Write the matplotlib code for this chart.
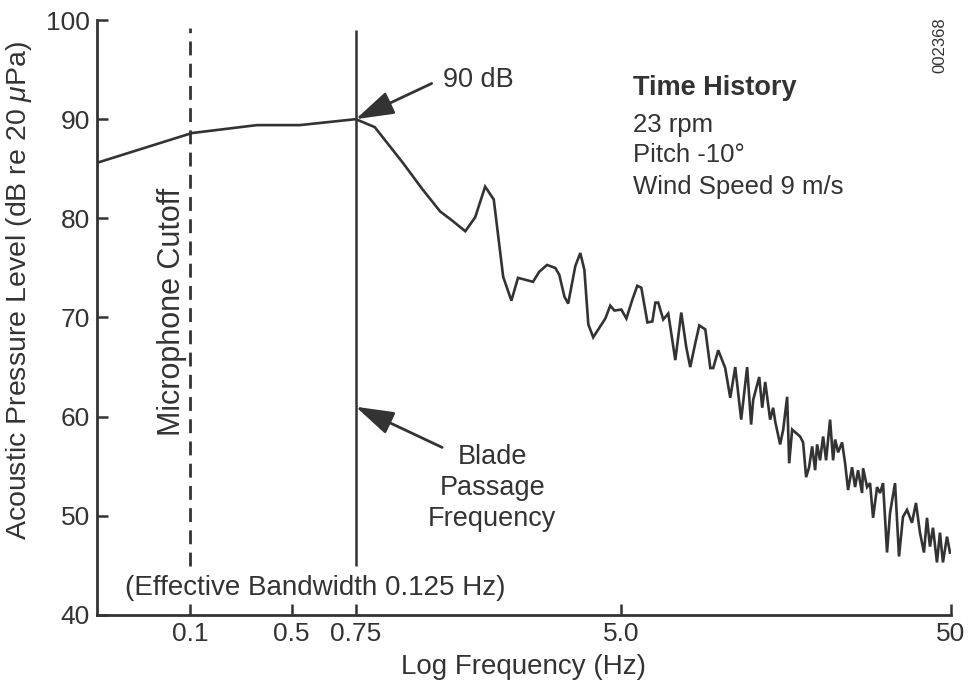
import numpy as np
import matplotlib.pyplot as plt
from matplotlib.ticker import NullLocator

plt.rcParams['font.family'] = ['Liberation Sans', 'DejaVu Sans']
plt.rcParams['mathtext.fontset'] = 'custom'
plt.rcParams['mathtext.it'] = 'Liberation Sans:italic'
plt.rcParams['mathtext.rm'] = 'Liberation Sans'

INK = '#333333'

# spectrum: frequency (Hz) and level (dB re 20 uPa)
freq = [0.0231, 0.103, 0.288, 0.526, 0.75, 0.859, 1.05, 1.21, 1.37, 1.49,
        1.64, 1.76, 1.89, 2.01, 2.15, 2.28, 2.39, 2.66, 2.78, 2.94,
        3.12, 3.21, 3.33, 3.42, 3.60, 3.73, 3.84, 3.95, 4.09, 4.46,
        4.62, 4.76, 5.00, 5.18, 5.40, 5.59, 5.75, 6.00, 6.21, 6.34,
        6.47, 6.70, 6.94, 7.29, 7.60, 7.87, 8.09, 8.38, 8.62, 8.99,
        9.31, 9.50, 9.84, 10.33, 10.70, 11.08, 11.55, 12.04, 12.38, 12.56,
        13.10, 13.38, 13.66, 14.14, 14.44, 14.65, 15.16, 15.49, 15.92, 16.15,
        16.49, 17.43, 17.80, 18.18, 18.56, 18.96, 19.36, 19.63, 20.04, 20.47,
        20.90, 21.49, 21.95, 22.26, 22.73, 23.37, 23.87, 24.37, 25.06, 25.59,
        26.13, 26.87, 27.06, 27.83, 28.41, 29.02, 29.84, 30.47, 31.11, 31.99,
        32.67, 33.83, 34.78, 35.76, 36.78, 38.08, 39.16, 40.27, 41.41, 42.29,
        43.18, 44.10, 45.34, 46.30, 47.28, 48.63, 49.66]
level = [85.6, 88.6, 89.4, 89.4, 90.0, 89.2, 85.6, 82.9, 80.7, 79.8,
         78.7, 80.1, 83.2, 81.9, 74.1, 71.7, 74.0, 73.6, 74.6, 75.3,
         75.0, 74.3, 72.1, 71.4, 75.2, 76.5, 74.8, 69.3, 68.0, 69.9,
         71.2, 70.7, 70.8, 69.9, 71.8, 73.2, 73.0, 69.5, 69.6, 71.5,
         71.5, 69.8, 70.4, 65.7, 70.5, 67.0, 65.0, 67.4, 69.2, 68.8,
         64.9, 64.9, 66.7, 64.9, 61.9, 65.0, 59.7, 65.0, 59.2, 61.7,
         64.0, 60.9, 63.5, 59.7, 60.9, 59.5, 57.2, 58.7, 62.0, 55.3,
         58.7, 58.0, 57.4, 53.9, 54.9, 57.0, 54.6, 57.2, 55.6, 58.0,
         55.6, 59.7, 55.6, 57.7, 56.4, 57.4, 55.3, 52.6, 54.9, 52.9,
         54.6, 52.3, 54.8, 52.9, 53.3, 49.8, 52.9, 52.3, 53.3, 46.3,
         50.3, 53.3, 45.9, 49.9, 50.6, 49.3, 51.3, 48.3, 46.3, 49.8,
         46.9, 48.8, 45.3, 48.3, 45.3, 47.9, 46.3]

tick_freq = [0.1, 0.5, 0.75, 5.0, 50]
tick_labels = ['0.1', '0.5', '0.75', '5.0', '50']
cutoff_freq = 0.1
blade_freq = 0.75
f_min, f_max = 0.0231, 50

# the hand-drawn axis is only piecewise logarithmic: tie the scale to its ticks
anchor_log = np.log10([f_min] + tick_freq)
anchor_pos = np.array([0.0, 0.109, 0.228, 0.303, 0.614, 1.0])
slope_lo = (anchor_pos[1] - anchor_pos[0]) / (anchor_log[1] - anchor_log[0])
slope_hi = (anchor_pos[-1] - anchor_pos[-2]) / (anchor_log[-1] - anchor_log[-2])
ext_log = np.concatenate([[anchor_log[0] - 5], anchor_log, [anchor_log[-1] + 5]])
ext_pos = np.concatenate([[anchor_pos[0] - 5 * slope_lo], anchor_pos,
                          [anchor_pos[-1] + 5 * slope_hi]])


def fwd(f):
    f = np.clip(np.asarray(f, dtype=float), 1e-9, None)
    return np.interp(np.log10(f), ext_log, ext_pos)


def inv(p):
    return 10 ** np.interp(np.asarray(p, dtype=float), ext_pos, ext_log)


fig = plt.figure(figsize=(9.68, 6.85), dpi=100)
ax = fig.add_axes([0.1002, 0.1022, 0.8822, 0.8686])
ax.set_xscale('function', functions=(fwd, inv))
ax.set_xlim(f_min, f_max)
ax.set_ylim(40, 100)

ax.plot(freq, level, color=INK, lw=1.9, solid_joinstyle='miter')

ax.vlines(cutoff_freq, 44.9, 99.2, color=INK, lw=2, linestyles=(0, (5, 3)))
ax.vlines(blade_freq, 44.9, 99.0, color=INK, lw=1.8)

ax.set_xticks(tick_freq)
ax.set_xticklabels(tick_labels)
ax.xaxis.set_minor_locator(NullLocator())
ax.set_yticks(range(40, 101, 10))

for side in ['top', 'right']:
    ax.spines[side].set_visible(False)
for side in ['left', 'bottom']:
    ax.spines[side].set_color(INK)
    ax.spines[side].set_linewidth(2)
ax.tick_params(direction='in', length=8, width=1.8, color=INK,
               labelcolor=INK, labelsize=19, pad=5)

ax.set_xlabel('Log Frequency (Hz)', fontsize=20, color=INK, labelpad=6)
ax.set_ylabel(r'Acoustic Pressure Level (dB re 20 $\mu$Pa)', fontsize=20.5,
              color=INK)
ax.yaxis.set_label_coords(-0.074, 0.546)

arrow = dict(arrowstyle='-|>,head_length=0.9,head_width=0.28', color=INK,
             lw=2, mutation_scale=26, shrinkA=0, shrinkB=0)
ax.annotate('', xy=(blade_freq, 90.0), xytext=(1.29, 93.6), arrowprops=arrow)
ax.text(1.40, 94.0, '90 dB', fontsize=19.5, color=INK, ha='left', va='center')
ax.annotate('', xy=(blade_freq, 61.0), xytext=(1.39, 56.9), arrowprops=arrow)
ax.text(1.99, 57.2, 'Blade\nPassage\nFrequency', fontsize=19.5, color=INK,
        ha='center', va='top', linespacing=1.25)

ax.text(0.628, 0.886, 'Time History', transform=ax.transAxes, fontsize=19.5,
        fontweight='bold', color=INK, va='center')
ax.text(0.628, 0.824, '23 rpm', transform=ax.transAxes, fontsize=18.5,
        color=INK, va='center')
ax.text(0.628, 0.773, 'Pitch -10°', transform=ax.transAxes, fontsize=18.5,
        color=INK, va='center')
ax.text(0.628, 0.719, 'Wind Speed 9 m/s', transform=ax.transAxes,
        fontsize=18.5, color=INK, va='center')

ax.text(0.088, 0.509, 'Microphone Cutoff', transform=ax.transAxes,
        fontsize=22, color=INK, rotation=90, ha='center', va='center')
ax.text(0.033, 0.045, '(Effective Bandwidth 0.125 Hz)', transform=ax.transAxes,
        fontsize=20, color=INK, ha='left', va='center')
fig.text(0.971, 0.934, '002368', fontsize=12, color=INK, rotation=90,
         ha='center', va='center')

fig.savefig('out.png', dpi=100)
